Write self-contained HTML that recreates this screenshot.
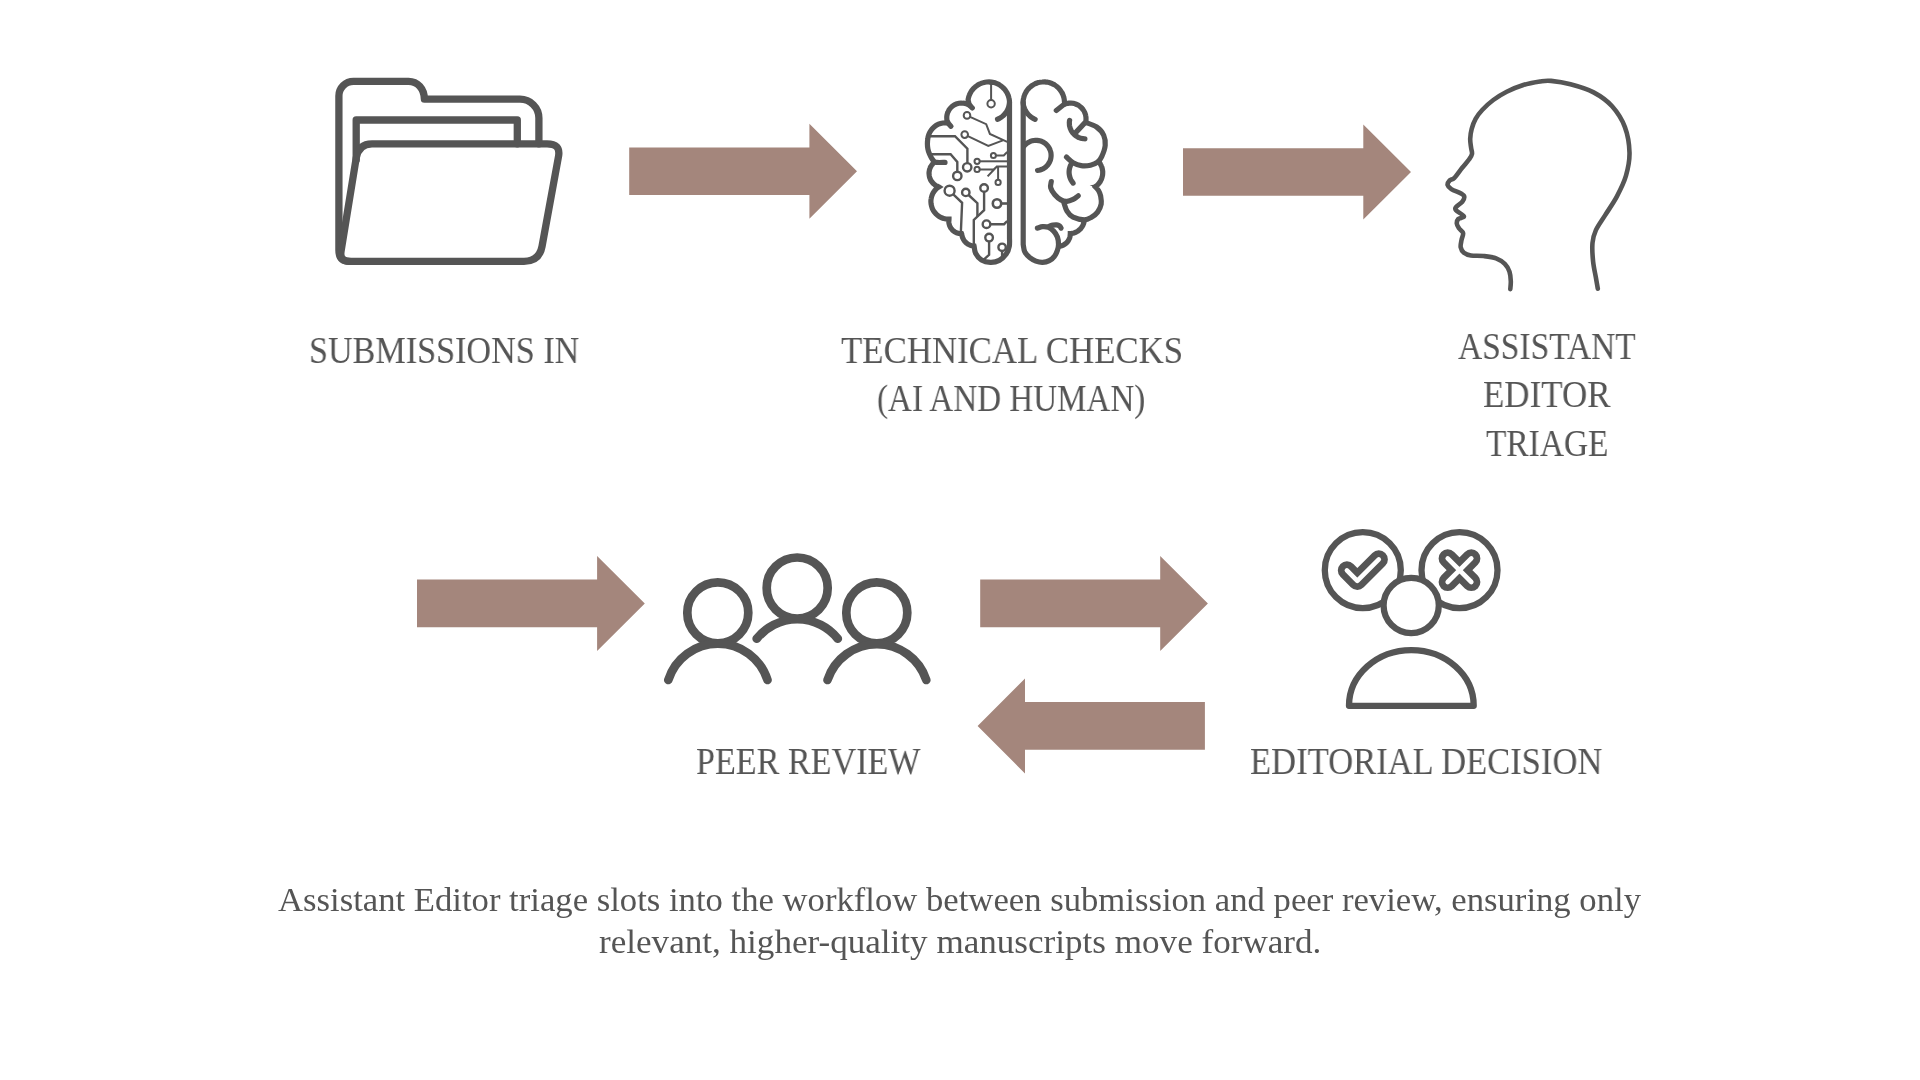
<!DOCTYPE html>
<html lang="en">
<head>
<meta charset="utf-8">
<title>Editorial workflow</title>
<style>
html,body{margin:0;padding:0;background:#fff;}
body{width:1920px;height:1080px;position:relative;overflow:hidden;font-family:"Liberation Serif","DejaVu Serif",serif;color:#555555;}
svg{position:absolute;left:0;top:0;}
.t{position:absolute;transform-origin:0 0;will-change:transform;white-space:nowrap;line-height:1.149;margin:0;padding:0;color:#555555;}
</style>
</head>
<body>
<svg width="1920" height="1080" viewBox="0 0 1920 1080">
<g fill="#a4867c" stroke="none">
<path d="M629.2 147.5L809.4 147.5L809.4 123.8L857 171.3L809.4 218.8L809.4 195.1L629.2 195.1Z"/>
<path d="M1183 148.2L1363.3 148.2L1363.3 124.5L1411 172L1363.3 219.5L1363.3 195.8L1183 195.8Z"/>
<path d="M417 579.6L597.1 579.6L597.1 555.9L644.8 603.4L597.1 650.9L597.1 627.2L417 627.2Z"/>
<path d="M980.2 579.6L1160.2 579.6L1160.2 555.9L1207.9 603.4L1160.2 650.9L1160.2 627.2L980.2 627.2Z"/>
<path d="M1204.9 702.1L1025 702.1L1025 678.4L977.6 725.9L1025 773.4L1025 749.7L1204.9 749.7Z"/>
</g>
<g fill="none" stroke="#555555" stroke-width="7.3" stroke-linecap="round" stroke-linejoin="round">
<path d="M349.5 261.3Q338.9 261.3 338.9 250V96A14.6 14.6 0 0 1 353.5 81.4H408.5C417.5 81.4 424.2 88.5 424.4 99.2H520A18.9 18.9 0 0 1 538.9 118.1V143.8"/>
<path d="M356.2 160V120H517.3V143.8"/>
<path d="M356.2 158Q358.6 143.8 372 143.8H547Q560.6 143.8 558.6 156L542 246.5Q539.3 261.3 524 261.3H349.5Q339.6 261.3 341 251.5Z"/>
</g>
<g fill="none" stroke="#555555" stroke-width="5.2" stroke-linecap="round" stroke-linejoin="miter" stroke-miterlimit="6">
<path d="M997.5 119.3C997.8 119.2 998.8 118.7 999.4 118.4C1000 118.1 1000.6 117.7 1001.1 117.3C1001.7 116.9 1002.3 116.5 1002.8 116C1003.3 115.6 1003.8 115.1 1004.3 114.6C1004.8 114 1005.2 113.5 1005.7 112.9C1006.1 112.3 1006.5 111.7 1006.9 111.1C1007.2 110.5 1007.6 109.8 1007.8 109.1C1008.1 108.5 1008.4 107.8 1008.6 107.1C1008.8 106.4 1009 105.7 1009.2 104.9C1009.3 104.2 1009.5 103.4 1009.5 102.7C1009.5 102 1009.5 101.3 1009.4 100.5C1009.3 99.8 1009.2 98.9 1009 98.1C1008.8 97.2 1008.5 96.4 1008.3 95.6C1008 94.9 1007.6 94.1 1007.3 93.3C1006.9 92.6 1006.5 91.9 1006 91.2C1005.5 90.5 1005 89.8 1004.5 89.2C1004 88.5 1003.4 87.9 1002.8 87.4C1002.1 86.8 1001.5 86.3 1000.8 85.8C1000.1 85.3 999.4 84.9 998.7 84.4C997.9 84 997.2 83.7 996.4 83.4C995.6 83.1 994.8 82.8 994 82.6C993.2 82.4 992.4 82.2 991.6 82.1C990.7 82 989.9 81.9 989.1 81.9C988.2 81.9 987.4 81.9 986.6 82C985.7 82.1 984.9 82.2 984.1 82.4C983.3 82.6 982.5 82.8 981.7 83.1C980.9 83.4 980.1 83.7 979.4 84.1C978.6 84.5 977.9 84.9 977.2 85.4C976.5 85.8 975.8 86.3 975.2 86.9C974.6 87.4 974 88 973.4 88.6C972.8 89.2 972.3 89.9 971.8 90.6C971.3 91.3 970.9 92 970.5 92.7C970.1 93.4 969.7 94.2 969.4 95C969.1 95.7 968.8 96.5 968.6 97.3C968.4 98.2 968.2 99.4 968.1 99.8Q968.2 104.8 972.3 108" stroke-linejoin="round"/>
<path d="M969.1 105.2C968.8 105 967.9 104.5 967.2 104.2C966.6 103.9 965.9 103.7 965.2 103.5C964.6 103.4 963.9 103.2 963.2 103.2C962.5 103.1 961.7 103.1 961 103.1C960.3 103.1 959.6 103.2 958.9 103.3C958.3 103.4 957.6 103.6 956.9 103.8C956.2 104 955.6 104.3 954.9 104.6C954.3 104.9 953.7 105.3 953.1 105.7C952.6 106.1 952 106.6 951.5 107C951 107.5 950.5 108 950 108.6C949.6 109.1 949.2 109.7 948.8 110.3C948.5 110.9 948.2 111.5 947.9 112.2C947.6 112.8 947.4 113.5 947.2 114.2C947 114.9 946.9 115.6 946.8 116.3C946.8 117 946.7 117.7 946.8 118.4C946.8 119.1 946.9 120.1 947 120.5Q947.6 123 951 126.3" stroke-linejoin="round"/>
<path d="M946.9 122.8C946.2 122.8 944.2 122.8 942.8 123C941.4 123.2 939.9 123.6 938.5 124.2C937.1 124.8 935.6 125.7 934.4 126.7C933.2 127.7 932 128.9 931.1 130.2C930.2 131.4 929.5 132.8 928.9 134.2C928.3 135.6 928 137.2 927.8 138.8C927.5 140.5 927.4 142.4 927.4 144.1C927.4 145.8 927.6 147.4 927.9 149C928.2 150.6 928.7 152.1 929.3 153.5C929.9 154.9 930.5 156.3 931.3 157.6C932.1 158.9 933 160.4 933.9 161.2C934.8 162 934.9 162.2 936.8 162.4C938.6 162.6 943.6 162.4 945 162.4" stroke-linejoin="round"/>
<path d="M934.4 162.2C934.2 162.4 933.5 163 933 163.5C932.6 164 932.2 164.4 931.8 165C931.4 165.5 931.1 166 930.8 166.6C930.5 167.1 930.2 167.7 930 168.3C929.7 168.9 929.6 169.5 929.4 170.2C929.3 170.8 929.2 171.4 929.1 172C929 172.7 929 173.3 929.1 174C929.1 174.6 929.2 175.2 929.3 175.9C929.4 176.5 929.5 177.1 929.7 177.7C929.9 178.3 930.2 178.9 930.4 179.5C930.7 180.1 931 180.6 931.4 181.2C931.7 181.7 932.1 182.2 932.5 182.7C933 183.2 933.4 183.6 933.9 184C934.4 184.5 934.9 184.8 935.4 185.2C935.9 185.5 936.5 185.9 937.1 186.1C937.6 186.4 938.5 186.7 938.8 186.9C938.3 187.2 937.2 188 936.5 188.6C935.8 189.3 935.2 190 934.6 190.7C934 191.5 933.5 192.3 933 193.1C932.6 193.9 932.2 194.8 931.9 195.7C931.6 196.6 931.3 197.5 931.2 198.5C931 199.4 930.9 200.3 930.9 201.3C930.9 202.2 931 203.2 931.1 204.1C931.3 205.1 931.5 206 931.8 206.9C932 207.8 932.4 208.7 932.8 209.5C933.3 210.4 933.8 211.2 934.3 211.9C934.9 212.7 935.5 213.4 936.2 214.1C936.8 214.8 937.6 215.4 938.3 215.9C939.1 216.5 939.9 217 940.8 217.4C941.6 217.8 942.5 218.2 943.4 218.4C944.3 218.7 945.2 218.9 946.2 219C947.1 219.2 948.5 219.2 949 219.2C949 219.4 948.9 220.1 948.9 220.6C948.8 221 948.8 221.5 948.8 221.9C948.9 222.4 948.9 222.8 949 223.3C949.1 223.7 949.2 224.2 949.3 224.6C949.4 225.1 949.6 225.5 949.7 225.9C949.9 226.3 950.1 226.8 950.3 227.2C950.5 227.6 950.8 227.9 951 228.3C951.3 228.7 951.6 229.1 951.9 229.4C952.2 229.7 952.5 230.1 952.8 230.4C953.2 230.7 953.5 231 953.9 231.2C954.3 231.5 954.6 231.8 955 232C955.4 232.2 955.8 232.4 956.3 232.6C956.7 232.8 957.1 232.9 957.5 233.1C958 233.2 958.4 233.3 958.9 233.4C959.3 233.5 959.8 233.5 960.2 233.6C960.7 233.6 961.4 233.6 961.6 233.6C961.7 233.8 961.8 234.4 961.8 234.8C961.9 235.2 962 235.6 962.1 236C962.2 236.4 962.3 236.7 962.4 237.1C962.5 237.5 962.7 237.9 962.9 238.2C963 238.6 963.2 239 963.4 239.3C963.6 239.7 963.8 240 964 240.3C964.3 240.7 964.5 241 964.7 241.3C965 241.6 965.3 241.9 965.6 242.2C965.8 242.5 966.1 242.7 966.4 243C966.7 243.2 967.1 243.5 967.4 243.7C967.7 243.9 968.1 244.2 968.4 244.4C968.7 244.6 969.1 244.7 969.5 244.9C969.8 245.1 970.2 245.2 970.6 245.4C971 245.5 971.3 245.6 971.7 245.7C972.1 245.8 972.5 245.9 972.9 246C973.3 246 973.9 246.1 974.1 246.1C974.4 247.2 974.4 251 975.6 253.3C976.8 255.6 979 258.5 981.5 260C984 261.5 987.4 262.3 990.4 262.4C993.4 262.5 996.7 261.8 999.3 260.4C1001.9 259 1004.5 256.5 1006.2 254.1C1007.9 251.7 1008.8 248.9 1009.3 246.2C1009.8 243.5 1009.5 239.4 1009.5 238L1009.5 102.7"/>
<path d="M1035.1 119.3C1034.8 119.1 1033.8 118.7 1033.2 118.4C1032.6 118 1032 117.7 1031.5 117.3C1030.9 116.9 1030.3 116.4 1029.8 116C1029.3 115.5 1028.8 115 1028.3 114.5C1027.8 114 1027.3 113.4 1026.9 112.8C1026.5 112.3 1026.1 111.6 1025.7 111C1025.4 110.4 1025 109.7 1024.7 109.1C1024.4 108.4 1024.2 107.7 1024 107C1023.7 106.3 1023.6 105.6 1023.4 104.8C1023.3 104.1 1023.1 103.3 1023.1 102.6C1023.1 101.9 1023.1 101.2 1023.2 100.4C1023.3 99.6 1023.5 98.7 1023.7 97.9C1023.9 97 1024.1 96.2 1024.4 95.4C1024.7 94.5 1025.1 93.7 1025.5 93C1025.9 92.2 1026.3 91.4 1026.8 90.7C1027.3 90 1027.9 89.3 1028.5 88.7C1029.1 88 1029.7 87.4 1030.4 86.9C1031 86.3 1031.7 85.8 1032.5 85.3C1033.2 84.8 1033.9 84.4 1034.7 84C1035.5 83.6 1036.3 83.3 1037.1 83C1038 82.7 1038.8 82.5 1039.7 82.3C1040.5 82.1 1041.4 82 1042.3 82C1043.1 81.9 1044 81.9 1044.9 81.9C1045.8 82 1046.6 82.1 1047.5 82.2C1048.3 82.4 1049.2 82.6 1050 82.9C1050.9 83.1 1051.7 83.4 1052.5 83.8C1053.3 84.2 1054 84.6 1054.8 85C1055.5 85.5 1056.2 86 1056.9 86.6C1057.6 87.1 1058.2 87.7 1058.8 88.4C1059.4 89 1060 89.7 1060.5 90.4C1061 91.1 1061.5 91.8 1061.9 92.6C1062.3 93.3 1062.7 94.1 1063 94.9C1063.3 95.7 1063.6 96.6 1063.8 97.4C1064.1 98.3 1064.2 99.1 1064.3 100C1064.4 100.9 1064.5 102.2 1064.5 102.6L1064.5 104L1056.3 110.5" stroke-linejoin="round"/>
<path d="M1065 104C1065.3 103.9 1066.3 103.6 1067 103.4C1067.6 103.3 1068.3 103.2 1069 103.1C1069.7 103.1 1070.4 103.1 1071.1 103.1C1071.8 103.1 1072.5 103.2 1073.2 103.3C1073.8 103.5 1074.5 103.6 1075.2 103.8C1075.8 104.1 1076.5 104.3 1077.1 104.6C1077.7 104.9 1078.3 105.3 1078.9 105.6C1079.5 106 1080 106.4 1080.6 106.9C1081.1 107.3 1081.6 107.8 1082 108.3C1082.5 108.8 1082.9 109.4 1083.3 110C1083.7 110.5 1084.1 111.1 1084.4 111.8C1084.7 112.4 1084.9 113 1085.2 113.7C1085.4 114.3 1085.6 115 1085.7 115.7C1085.9 116.4 1085.9 117 1086 117.7C1086 118.4 1086 119.1 1086 119.8C1086 120.5 1085.8 121.5 1085.7 121.9L1075.2 133.1" stroke-linejoin="round"/>
<path d="M1069.6 120.4C1069.5 120.7 1069.4 121.5 1069.4 122.1C1069.3 122.6 1069.3 123.2 1069.4 123.8C1069.4 124.3 1069.4 124.9 1069.5 125.5C1069.6 126 1069.7 126.6 1069.9 127.1C1070 127.7 1070.2 128.2 1070.4 128.7C1070.6 129.3 1070.9 129.8 1071.1 130.3C1071.4 130.8 1071.7 131.3 1072 131.8C1072.3 132.2 1072.6 132.7 1073 133.1C1073.4 133.6 1073.7 134 1074.2 134.4C1074.6 134.8 1075 135.1 1075.4 135.5C1075.9 135.8 1076.4 136.1 1076.8 136.4C1077.3 136.7 1077.8 137 1078.3 137.3C1078.8 137.5 1079.4 137.7 1079.9 137.9C1080.4 138.1 1081 138.2 1081.5 138.4C1082.1 138.5 1082.6 138.6 1083.2 138.7C1083.8 138.7 1084.6 138.8 1084.9 138.8"/>
<path d="M1085.9 122.5C1087.7 123.2 1093.6 124.9 1096.6 127C1099.6 129.1 1102.3 132.1 1103.7 135.2C1105.1 138.3 1105.5 141.8 1105.2 145.4C1104.9 149 1103 153.8 1101.7 156.6C1100.4 159.4 1099.5 160.8 1097.6 162.2C1095.7 163.6 1093.2 164.6 1090.5 165.2C1087.8 165.8 1084.2 166.1 1081.3 165.7C1078.4 165.3 1075.6 164.1 1073.1 162.7C1070.6 161.3 1067.6 158 1066.5 157.1"/>
<path d="M1024.1 146.1C1024.4 145.8 1025.2 144.8 1025.8 144.3C1026.4 143.7 1027 143.2 1027.7 142.8C1028.4 142.3 1029.2 141.9 1029.9 141.6C1030.7 141.2 1031.5 141 1032.3 140.8C1033.1 140.6 1033.9 140.4 1034.7 140.4C1035.5 140.3 1036.4 140.3 1037.2 140.3C1038 140.4 1038.8 140.5 1039.6 140.7C1040.4 140.9 1041.2 141.2 1042 141.5C1042.7 141.9 1043.5 142.3 1044.2 142.7C1044.9 143.1 1045.5 143.7 1046.1 144.2C1046.7 144.8 1047.3 145.4 1047.8 146C1048.3 146.7 1048.8 147.4 1049.2 148.1C1049.6 148.8 1050 149.6 1050.2 150.3C1050.5 151.1 1050.7 151.9 1050.9 152.7C1051 153.5 1051.1 154.4 1051.1 155.2C1051.1 156 1051.1 156.9 1050.9 157.7C1050.8 158.5 1050.6 159.3 1050.4 160.1C1050.1 160.9 1049.8 161.6 1049.4 162.4C1049 163.1 1048.6 163.8 1048.1 164.5C1047.6 165.1 1047 165.8 1046.4 166.3C1045.8 166.9 1045.2 167.4 1044.5 167.9C1043.8 168.3 1043.1 168.8 1042.3 169.1C1041.6 169.4 1040.8 169.7 1040 170C1039.2 170.2 1038 170.3 1037.6 170.4"/>
<path d="M1098.6 161.5C1098.8 161.7 1099.4 162.4 1099.7 162.9C1100 163.4 1100.3 163.9 1100.6 164.5C1100.9 165 1101.2 165.5 1101.4 166.1C1101.6 166.6 1101.8 167.2 1102 167.8C1102.2 168.3 1102.3 168.9 1102.4 169.5C1102.5 170.1 1102.6 170.7 1102.7 171.3C1102.7 171.9 1102.7 172.5 1102.7 173.1C1102.7 173.7 1102.6 174.3 1102.6 174.9C1102.5 175.5 1102.4 176.1 1102.2 176.6C1102.1 177.2 1101.9 177.8 1101.7 178.4C1101.5 178.9 1101.3 179.5 1101 180C1100.8 180.6 1100.5 181.1 1100.2 181.6C1099.9 182.1 1099.5 182.6 1099.2 183.1C1098.8 183.6 1098.4 184 1098 184.5C1097.6 184.9 1097.2 185.3 1096.7 185.7C1096.3 186.1 1095.5 186.6 1095.3 186.8C1095.8 187.4 1097.6 189 1098.5 190.5C1099.4 192 1100.1 193.6 1100.6 195.8C1101 198.1 1101.7 201.3 1101.2 204C1100.7 206.7 1099.2 209.9 1097.6 212.1C1096 214.3 1093.7 215.9 1091.5 217.2C1089.3 218.5 1087.5 219.8 1084.4 219.8C1081.3 219.8 1076 218.6 1073.1 217.2C1070.2 215.8 1068.5 213.5 1067 211.1C1065.5 208.7 1064.5 204.3 1064 203"/>
<path d="M1096.5 187.6L1089.6 185.2L1096.5 184.6Z" fill="#555555" stroke="none"/>
<path d="M1071.1 164.3C1071 164.5 1070.7 165 1070.5 165.4C1070.4 165.8 1070.2 166.2 1070.1 166.6C1069.9 167 1069.8 167.4 1069.7 167.8C1069.6 168.2 1069.5 168.6 1069.4 169C1069.3 169.4 1069.3 169.8 1069.2 170.2C1069.2 170.7 1069.1 171.1 1069.1 171.5C1069.1 171.9 1069.1 172.3 1069.1 172.7C1069.1 173.2 1069.2 173.6 1069.2 174C1069.3 174.4 1069.3 174.8 1069.4 175.2C1069.5 175.6 1069.6 176.1 1069.7 176.5C1069.8 176.9 1069.9 177.3 1070 177.7C1070.2 178.1 1070.3 178.4 1070.5 178.8C1070.7 179.2 1070.8 179.6 1071 180C1071.2 180.3 1071.4 180.7 1071.7 181C1071.9 181.4 1072.1 181.7 1072.4 182.1C1072.6 182.4 1073 182.9 1073.1 183.1"/>
<path d="M1051.3 181.6C1051.2 182.6 1050.1 185.5 1050.7 187.7C1051.3 189.9 1053.1 192.8 1054.8 194.8C1056.5 196.8 1058.9 198.8 1060.9 199.9C1062.9 201 1065 201.5 1067 201.4C1069 201.3 1071.2 200.3 1073.1 199.4C1075 198.5 1077.3 196.4 1078.2 195.8"/>
<path d="M1084.3 220.3C1084.3 220.5 1084.2 221.2 1084.1 221.6C1084 222 1083.9 222.4 1083.8 222.9C1083.7 223.3 1083.5 223.7 1083.4 224.1C1083.2 224.5 1083 224.9 1082.9 225.3C1082.7 225.7 1082.4 226.1 1082.2 226.5C1082 226.8 1081.7 227.2 1081.5 227.5C1081.2 227.9 1080.9 228.2 1080.7 228.6C1080.4 228.9 1080.1 229.2 1079.7 229.5C1079.4 229.8 1079.1 230.1 1078.8 230.4C1078.4 230.6 1078.1 230.9 1077.7 231.2C1077.3 231.4 1076.9 231.6 1076.6 231.8C1076.2 232 1075.8 232.2 1075.4 232.4C1075 232.6 1074.6 232.7 1074.2 232.9C1073.7 233 1073.3 233.1 1072.9 233.2C1072.5 233.4 1072 233.4 1071.6 233.5C1071.2 233.6 1070.5 233.6 1070.3 233.6C1070.3 233.8 1070.3 234.4 1070.2 234.7C1070.2 235.1 1070.2 235.5 1070.1 235.9C1070.1 236.2 1070 236.6 1069.9 237C1069.8 237.3 1069.7 237.7 1069.6 238.1C1069.4 238.4 1069.3 238.8 1069.1 239.1C1069 239.5 1068.8 239.8 1068.6 240.1C1068.4 240.4 1068.2 240.8 1068 241.1C1067.8 241.4 1067.5 241.7 1067.3 242C1067.1 242.3 1066.8 242.5 1066.5 242.8C1066.3 243.1 1066 243.3 1065.7 243.6C1065.4 243.8 1065.1 244 1064.8 244.2C1064.4 244.4 1064.1 244.6 1063.8 244.8C1063.5 245 1063.1 245.2 1062.8 245.3C1062.4 245.5 1062.1 245.6 1061.7 245.7C1061.4 245.8 1061 245.9 1060.6 246C1060.3 246.1 1059.7 246.2 1059.5 246.2"/>
<path d="M1023.2 102.6L1023.2 244.4C1023.5 245.7 1023.7 249.7 1024.8 251.9C1025.9 254.1 1028.2 256.3 1030 257.8C1031.8 259.3 1033.8 260.3 1035.9 261.1C1038 261.9 1040.4 262.5 1042.6 262.4C1044.8 262.3 1047.3 261.7 1049.3 260.7C1051.3 259.7 1053.1 258 1054.4 256.3C1055.8 254.6 1056.7 252.4 1057.4 250.4C1058.1 248.4 1058.5 246.6 1058.5 244.4C1058.5 242.2 1058.2 239.2 1057.4 237C1056.6 234.8 1055.2 232.7 1053.7 231.1C1052.2 229.5 1050.3 228.1 1048.5 227.4C1046.7 226.7 1044.4 226.6 1042.6 226.7C1040.8 226.8 1038.3 227.9 1037.4 228.1" stroke-linejoin="round"/>
<path d="M1049.4 226.2C1050 226 1051.8 225.3 1053 225.1C1054.2 224.9 1055.4 224.8 1056.5 224.9C1057.6 225.1 1058.8 225.5 1059.6 226C1060.4 226.5 1060.8 227.8 1061.1 228.1"/>
</g>
<g fill="none" stroke="#555555" stroke-width="2" stroke-linecap="butt" stroke-linejoin="miter">
<path d="M988 81.5L991.1 84.5V100.1"/>
<circle cx="991.1" cy="103.8" r="3.7" fill="none"/>
<path d="M970 116.9L986.2 124.2L989.9 133.9L1007.2 141.8"/>
<circle cx="967" cy="115.4" r="3.3" fill="none"/>
<path d="M967.9 136.1L988.3 145.9L1002.9 140.4"/>
<circle cx="964.7" cy="134.6" r="3.3" fill="none"/>
<path d="M930 136.2H955L967.4 148.7V163" stroke-width="2.4"/>
<circle cx="967.2" cy="167.3" r="4.2" fill="none" stroke-width="2.4"/>
<path d="M931 154.2H950.6L957.3 162V171.5" stroke-width="2.4"/>
<circle cx="957.3" cy="175.9" r="4.2" fill="none" stroke-width="2.4"/>
<path d="M996 155.5H1003.8L1007.2 152"/>
<circle cx="993.4" cy="155.5" r="2.5" fill="none"/>
<path d="M979.8 161.3H1007.2"/>
<circle cx="977.1" cy="161.3" r="2.6" fill="none"/>
<path d="M979.8 169.4H993.6L996.9 166.5H1007.2M996.9 166.5L987.6 176.4M998.1 166.5V179.6"/>
<circle cx="977.1" cy="169.4" r="2.6" fill="none"/>
<circle cx="998.1" cy="182.4" r="2.6" fill="none"/>
<path d="M953.3 194.3L962.1 202.8L960.9 231.5" stroke-width="2.4"/>
<circle cx="949.6" cy="190.7" r="5" fill="none" stroke-width="2.4"/>
<path d="M968.6 195L977.4 203.2V216.5" stroke-width="2.4"/>
<circle cx="965.8" cy="192.4" r="3.7" fill="none" stroke-width="2.4"/>
<path d="M984.1 192V210.2L973.8 219.9V245" stroke-width="2.4"/>
<circle cx="984.1" cy="188" r="3.8" fill="none" stroke-width="2.4"/>
<path d="M1001.3 203.5H1007.2" stroke-width="2.6"/>
<circle cx="997" cy="203.5" r="4.2" fill="none" stroke-width="2.6"/>
<path d="M990.4 224.2H1004.1L1007.2 221" stroke-width="2.4"/>
<circle cx="986.5" cy="224.2" r="3.8" fill="none" stroke-width="2.4"/>
<path d="M989.1 241.5V254.8L983.5 259.8" stroke-width="2.4"/>
<circle cx="989.1" cy="237.6" r="3.8" fill="none" stroke-width="2.4"/>
<path d="M1002.1 251.2V258" stroke-width="2.4"/>
<circle cx="1002.1" cy="247.3" r="3.7" fill="none" stroke-width="2.4"/>
</g>
<path d="M1510.3 289.1C1510.4 287.8 1510.9 284.1 1510.8 281.2C1510.7 278.3 1510.5 274.6 1509.5 271.7C1508.5 268.8 1507 266.1 1504.8 263.9C1502.6 261.7 1499.6 259.6 1496.1 258.3C1492.5 257 1487.7 256.5 1483.5 256C1479.3 255.5 1474.2 256 1470.9 255.5C1467.6 255 1465.6 254.2 1463.9 252.8C1462.2 251.4 1461.1 249.4 1460.7 247.3C1460.3 245.2 1461.1 242.6 1461.5 240.2C1461.9 237.8 1463.5 235.1 1463.1 233.1C1462.7 231.1 1460.1 230 1459.1 228.4C1458 226.8 1456.9 225.3 1456.8 223.7C1456.7 222.1 1457.1 220.2 1458.3 219C1459.5 217.8 1464.3 217.8 1463.9 216.3C1463.5 214.9 1457.3 211.8 1456 210.3C1454.7 208.8 1455 208.6 1456 207.2C1457 205.8 1460.9 203.4 1462.3 201.7C1463.7 200 1464.4 198.2 1464.3 196.9C1464.2 195.6 1463.7 195.1 1461.5 193.8C1459.3 192.5 1453.6 190.6 1451.3 189.1C1449 187.6 1447.9 186.5 1447.6 185.1C1447.3 183.7 1448.6 181.6 1449.7 180.4C1450.8 179.2 1452.3 179.9 1454.4 177.8C1456.5 175.7 1459.7 170.9 1462.2 167.8C1464.7 164.7 1467.6 161.6 1469.2 159.3C1470.8 157 1471.7 155.8 1472 153.9C1472.3 152 1471.4 150.3 1471.1 147.8C1470.8 145.3 1470.1 142.1 1470.2 138.9C1470.3 135.8 1470.8 132.2 1471.7 128.9C1472.6 125.6 1473.8 122.1 1475.6 118.9C1477.3 115.8 1479.2 113.2 1482.2 110C1485.2 106.8 1489.2 103 1493.3 100C1497.4 97 1501.7 94.2 1506.7 91.7C1511.7 89.2 1517.8 86.7 1523.3 85C1528.8 83.3 1535.4 82.2 1540 81.5C1544.6 80.8 1546 80.4 1551.1 80.9C1556.2 81.4 1563.4 82.4 1570.5 84.3C1577.6 86.2 1586.7 88.7 1593.6 92.4C1600.5 96.1 1606.9 100.5 1612.1 106.3C1617.3 112.1 1622 119.4 1624.9 127.1C1627.8 134.8 1629.3 144.5 1629.5 152.6C1629.7 160.7 1628.1 168.4 1626 175.7C1623.9 183 1620.3 190 1616.8 196.6C1613.3 203.2 1608.7 209.5 1605.2 215.1C1601.7 220.7 1598 225.5 1595.9 230.1C1593.8 234.7 1593 237.7 1592.5 242.9C1592 248.1 1592.5 255.6 1593.1 261.4C1593.7 267.2 1595.1 273.1 1595.9 277.6C1596.7 282.2 1597.5 286.9 1597.8 288.7" fill="none" stroke="#555555" stroke-width="4.6" stroke-linecap="round" stroke-linejoin="round"/>
<g fill="none" stroke="#555555" stroke-width="8.7" stroke-linecap="round" stroke-linejoin="round">
<circle cx="717.8" cy="612.8" r="30.5" fill="none"/>
<circle cx="797.2" cy="588" r="30.5" fill="none"/>
<circle cx="876.8" cy="612.8" r="30.5" fill="none"/>
<path d="M668.3 680A52 52 0 0 1 767.5 680"/>
<path d="M756.7 638.7A52 52 0 0 1 837.8 638.7"/>
<path d="M827.5 680A52 52 0 0 1 926.3 680"/>
</g>
<g fill="none" stroke="#555555" stroke-width="6.3" stroke-linecap="round" stroke-linejoin="round">
<circle cx="1362.8" cy="570.2" r="38" fill="none"/>
<circle cx="1459.5" cy="570.2" r="38" fill="none"/>
<circle cx="1411.2" cy="605.5" r="27.6" fill="#fff"/>
<path d="M1349 705.8A62.3 55.6 0 0 1 1473.7 705.8Z"/>
<path d="M1346.9 570.4L1357.3 580.9L1378.8 559.4" stroke-width="18.2"/>
<path d="M1447.7 558.4L1471.3 582M1471.3 558.4L1447.7 582" stroke-width="18.2"/>
<path d="M1346.9 570.4L1357.3 580.9L1378.8 559.4" stroke-width="4.6" stroke="#fff"/>
<path d="M1447.7 558.4L1471.3 582M1471.3 558.4L1447.7 582" stroke-width="4.6" stroke="#fff"/>
</g>
</svg>
<div class="t" id="t0" style="left:308.74px;top:328.73px;font-size:37.8px;transform:scaleX(0.9030)">SUBMISSIONS IN</div>
<div class="t" id="t1" style="left:841.48px;top:328.73px;font-size:37.8px;transform:scaleX(0.9214)">TECHNICAL CHECKS</div>
<div class="t" id="t2" style="left:877.12px;top:376.53px;font-size:37.8px;transform:scaleX(0.8750)">(AI AND HUMAN)</div>
<div class="t" id="t3" style="left:1457.56px;top:325.03px;font-size:37.8px;transform:scaleX(0.8860)">ASSISTANT</div>
<div class="t" id="t4" style="left:1483.08px;top:373.23px;font-size:37.8px;transform:scaleX(0.9241)">EDITOR</div>
<div class="t" id="t5" style="left:1486.03px;top:421.93px;font-size:37.8px;transform:scaleX(0.8832)">TRIAGE</div>
<div class="t" id="t6" style="left:695.57px;top:739.53px;font-size:37.8px;transform:scaleX(0.9024)">PEER REVIEW</div>
<div class="t" id="t7" style="left:1249.63px;top:739.53px;font-size:37.8px;transform:scaleX(0.9146)">EDITORIAL DECISION</div>
<div class="t" id="t8" style="left:277.50px;top:879.69px;font-size:34px;transform:scaleX(1.0196)">Assistant Editor triage slots into the workflow between submission and peer review, ensuring only</div>
<div class="t" id="t9" style="left:598.97px;top:922.39px;font-size:34px;transform:scaleX(1.0321)">relevant, higher-quality manuscripts move forward.</div>
</body>
</html>
